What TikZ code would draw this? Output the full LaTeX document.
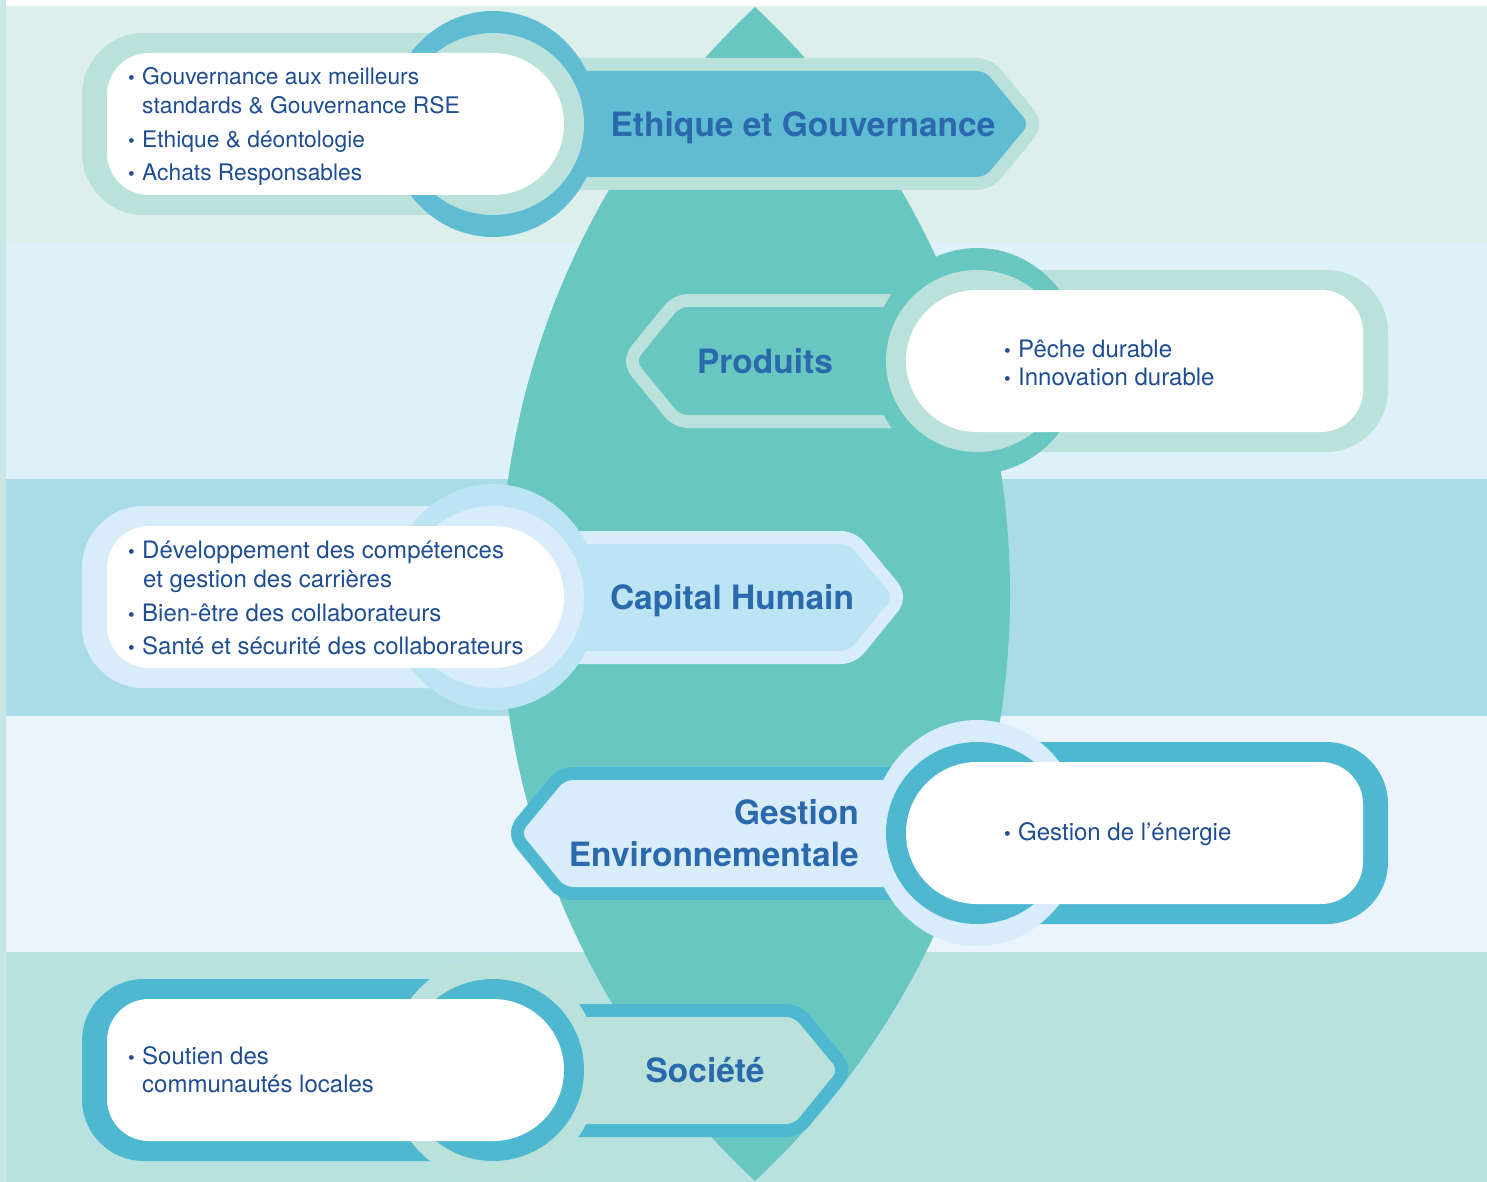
\documentclass[tikz,border=0pt]{standalone}
\usepackage{fontspec}
\setmainfont{TeX Gyre Heros}
\definecolor{bandA}{HTML}{DDEFEB}
\definecolor{bandB}{HTML}{DDF1F9}
\definecolor{bandC}{HTML}{A9DCE6}
\definecolor{bandD}{HTML}{EBF4FC}
\definecolor{bandE}{HTML}{B7E2DF}
\definecolor{edgecol}{HTML}{C8E6E6}
\definecolor{lens}{HTML}{69C7C1}
\definecolor{mint}{HTML}{BBE2DA}
\definecolor{ringblue}{HTML}{60BCD2}
\definecolor{deepblue}{HTML}{4DB8D0}
\definecolor{pale}{HTML}{D9ECF9}
\definecolor{lightblue}{HTML}{BCE4F4}
\definecolor{titlecol}{HTML}{2B69AD}
\definecolor{textcol}{HTML}{1F4D93}
\newcommand\bul{\makebox[14pt][l]{{\fontsize{19}{19}\selectfont •}}}
\tikzset{
  ttl/.style={font=\fontsize{33.5}{40}\selectfont\bfseries, text=titlecol, inner sep=0pt},
  itm/.style={font=\fontsize{24}{28}\selectfont, text=textcol, inner sep=0pt, anchor=base west},
  itmsmall/.style={itm, font=\fontsize{22.8}{28}\selectfont},
  arrowbody/.style={rounded corners=8pt, preaction={draw=#1, line width=26pt, line join=round}},
  ringshape/.style={x radius=106pt, y radius=113pt},
}
\begin{document}
\begin{tikzpicture}[x=1pt,y=-1pt]
\useasboundingbox (0,0) rectangle (1487,1182);
\clip (0,0) rectangle (1487,1182);
% background bands
\fill[white] (0,0) rectangle (1487,1182);
\fill[bandA] (0,6) rectangle (1487,242);
\fill[bandB] (0,242) rectangle (1487,479);
\fill[bandC] (0,479) rectangle (1487,716);
\fill[bandD] (0,716) rectangle (1487,952);
\fill[bandE] (0,952) rectangle (1487,1182);
\fill[edgecol] (0,0) rectangle (6,1182);
% central lens
\begin{scope}
  \clip (1303,594) circle[radius=803pt];
  \fill[lens] (207,594) circle[radius=803pt];
\end{scope}

% ---------- Row 1 : Ethique et Gouvernance ----------
\begin{scope}[shift={(493,124)}]
  \path[fill=ringblue, arrowbody=mint] (0,-53) -- (492,-53) -- (536,0) -- (492,53) -- (0,53) -- cycle;
  \fill[mint, rounded corners=62pt] (-411,-91) rectangle (40,91);
  \fill[ringblue] (0,0) ellipse[ringshape];
  \fill[mint] (0,0) circle[radius=91pt];
  \fill[white] (0,-71) arc[start angle=90, end angle=-90, radius=71pt] -- (-344,71)
     arc[start angle=270, end angle=180, radius=42pt] -- (-386,-29)
     arc[start angle=180, end angle=90, radius=42pt] -- cycle;
\end{scope}
\node[ttl, anchor=base] (t1) at (803,137) {Ethique et Gouvernance};
\node[itmsmall] (a1) at (128,85) {\bul Gouvernance aux meilleurs};
\node[itmsmall] (a2) at (142,114) {standards \& Gouvernance RSE};
\node[itmsmall] (a3) at (128,148) {\bul Ethique \& déontologie};
\node[itmsmall] (a4) at (128,181) {\bul Achats Responsables};

% ---------- Row 2 : Produits ----------
\begin{scope}[shift={(977,361)}]
  \path[fill=lens, arrowbody=mint] (0,-54) -- (-297,-54) -- (-341,0) -- (-297,54) -- (0,54) -- cycle;
  \fill[mint, rounded corners=62pt] (-40,-91) rectangle (411,91);
  \fill[lens] (0,0) ellipse[ringshape];
  \fill[mint] (0,0) circle[radius=91pt];
  \fill[white] (0,-71) arc[start angle=90, end angle=270, radius=71pt] -- (344,71)
     arc[start angle=-90, end angle=0, radius=42pt] -- (386,-29)
     arc[start angle=0, end angle=90, radius=42pt] -- cycle;
\end{scope}
\node[ttl, anchor=base] (t2) at (765,373) {Produits};
\node[itm] (b1) at (1004,357) {\bul Pêche durable};
\node[itm] (b2) at (1004,385) {\bul Innovation durable};

% ---------- Row 3 : Capital Humain ----------
\begin{scope}[shift={(493,597)}]
  \path[fill=lightblue, arrowbody=pale] (0,-53) -- (356,-53) -- (400,0) -- (356,54) -- (0,54) -- cycle;
  \fill[pale, rounded corners=62pt] (-411,-91) rectangle (40,91);
  \fill[lightblue] (0,0) ellipse[ringshape];
  \fill[pale] (0,0) circle[radius=91pt];
  \fill[white] (0,-71) arc[start angle=90, end angle=-90, radius=71pt] -- (-344,71)
     arc[start angle=270, end angle=180, radius=42pt] -- (-386,-29)
     arc[start angle=180, end angle=90, radius=42pt] -- cycle;
\end{scope}
\node[ttl, anchor=base] (t3) at (732,609) {Capital Humain};
\node[itm] (c1) at (128,558) {\bul Développement des compétences};
\node[itm] (c2) at (143,587) {et gestion des carrières};
\node[itm] (c3) at (128,621) {\bul Bien-être des collaborateurs};
\node[itm] (c4) at (128,654) {\bul Santé et sécurité des collaborateurs};

% ---------- Row 4 : Gestion Environnementale ----------
\begin{scope}[shift={(977,833)}]
  \path[fill=pale, arrowbody=deepblue] (0,-53) -- (-412,-53) -- (-456,0) -- (-412,54) -- (0,54) -- cycle;
  \fill[deepblue, rounded corners=62pt] (-40,-91) rectangle (411,91);
  \fill[pale] (0,0) ellipse[ringshape];
  \fill[deepblue] (0,0) circle[radius=91pt];
  \fill[white] (0,-71) arc[start angle=90, end angle=270, radius=71pt] -- (344,71)
     arc[start angle=-90, end angle=0, radius=42pt] -- (386,-29)
     arc[start angle=0, end angle=90, radius=42pt] -- cycle;
\end{scope}
\node[ttl, anchor=base east] (t4a) at (859,824) {Gestion};
\node[ttl, anchor=base east] (t4b) at (859,866) {Environnementale};
\node[itm] (d1) at (1004,840) {\bul Gestion de l’énergie};

% ---------- Row 5 : Société ----------
\begin{scope}[shift={(493,1070)}]
  \path[fill=mint, arrowbody=deepblue] (0,-53) -- (301,-53) -- (345,0) -- (301,54) -- (0,54) -- cycle;
  \fill[deepblue, rounded corners=62pt] (-411,-91) rectangle (40,91);
  \fill[mint] (0,0) ellipse[ringshape];
  \fill[deepblue] (0,0) circle[radius=91pt];
  \fill[white] (0,-71) arc[start angle=90, end angle=-90, radius=71pt] -- (-344,71)
     arc[start angle=270, end angle=180, radius=42pt] -- (-386,-29)
     arc[start angle=180, end angle=90, radius=42pt] -- cycle;
\end{scope}
\node[ttl, anchor=base] (t5) at (705,1082) {Société};
\node[itm] (e1) at (128,1064) {\bul Soutien des};
\node[itm] (e2) at (142,1092) {communautés locales};
\end{tikzpicture}
\end{document}
